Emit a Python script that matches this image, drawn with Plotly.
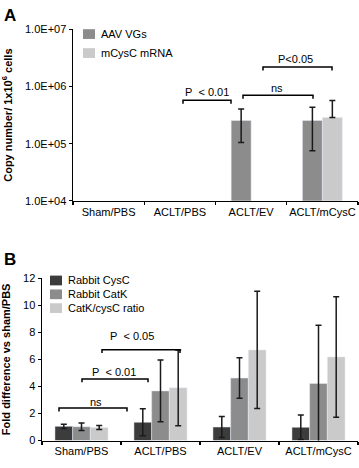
import plotly.graph_objects as go

W, H = 359, 468

# ---------------- data ----------------
categories = ["Sham/PBS", "ACLT/PBS", "ACLT/EV", "ACLT/mCysC"]

# Panel A (copy number / 1x10^6 cells)
a_series = ["AAV VGs", "mCysC mRNA"]
a_colors = ["#8c8c8c", "#cacaca"]
aav_vgs = [None, None, 2.55e5, 2.55e5]
aav_vgs_err = [0, 0, 1.5e5, 1.8e5]
mcysc_mrna = [None, None, None, 2.88e5]
mcysc_mrna_err = [0, 0, 0, 2.8e5]
a_tickvals = [1e4, 1e5, 1e6, 1e7]
a_ticktext = ["1.0E+04", "1.0E+05", "1.0E+06", "1.0E+07"]

# Panel B (fold difference vs sham/PBS)
b_series = ["Rabbit CysC", "Rabbit CatK", "CatK/cysC ratio"]
b_colors = ["#3c3c3c", "#8c8c8c", "#cacaca"]
rabbit_cysc = [1.05, 1.35, 1.0, 0.98]
rabbit_cysc_err = [0.15, 1.0, 0.78, 0.9]
rabbit_catk = [1.02, 3.67, 4.62, 4.22]
rabbit_catk_err = [0.28, 2.28, 1.5, 4.3]
ratio = [0.97, 3.9, 6.7, 6.18]
ratio_err = [0.15, 2.8, 4.33, 4.45]
b_tickvals = [0, 2, 4, 6, 8, 10, 12]

# ---------------- helpers ----------------
def px(x):
    return x / W

def py(y):
    return 1 - y / H

FONT = "Liberation Sans, Arial, Helvetica, sans-serif"
ERR = dict(type="data", color="#1a1a1a", thickness=1.5, width=3)

fig = go.Figure()

# Panel A traces
fig.add_trace(go.Bar(
    x=categories, y=aav_vgs, name=a_series[0], marker_color=a_colors[0],
    error_y=dict(array=aav_vgs_err, **ERR), xaxis="x", yaxis="y", showlegend=False))
fig.add_trace(go.Bar(
    x=categories, y=mcysc_mrna, name=a_series[1], marker_color=a_colors[1],
    error_y=dict(array=mcysc_mrna_err, arrayminus=[0, 0, 0, 0], symmetric=False, **ERR),
    xaxis="x", yaxis="y", showlegend=False))

# Panel B traces
b_values = [rabbit_cysc, rabbit_catk, ratio]
b_errs = [rabbit_cysc_err, rabbit_catk_err, ratio_err]
b_width = 0.224
for i in range(3):
    fig.add_trace(go.Bar(
        x=categories, y=b_values[i], name=b_series[i], marker_color=b_colors[i],
        error_y=dict(array=b_errs[i], **ERR), xaxis="x2", yaxis="y2", showlegend=False,
        width=b_width, offset=-1.5 * b_width + i * b_width))

axis_common = dict(showline=True, linecolor="black", linewidth=1.5, showgrid=False,
                   zeroline=False, ticks="outside", tickcolor="black", ticklen=3,
                   tickwidth=1.2, tickangle=0,
                   tickfont=dict(family=FONT, size=11, color="black"))

fig.update_layout(
    width=W, height=H, margin=dict(l=0, r=0, t=0, b=0),
    paper_bgcolor="white", plot_bgcolor="white",
    barmode="group", bargap=0.44, bargroupgap=0, showlegend=False,
    font=dict(family=FONT, size=11, color="black"),
    xaxis=dict(domain=[px(73), px(358)], anchor="y", type="category",
               tickson="boundaries", range=[-0.5, 3.5], **axis_common),
    yaxis=dict(domain=[py(200), py(24)], anchor="x", type="log", range=[4, 7],
               tickvals=a_tickvals, ticktext=a_ticktext,
               title=dict(text="<b>Copy number/ 1x10<sup>6</sup> cells</b>",
                          font=dict(family=FONT, size=11), standoff=10),
               **axis_common),
    xaxis2=dict(domain=[px(42), px(358)], anchor="y2", type="category",
                tickson="boundaries", range=[-0.5, 3.5], **axis_common),
    yaxis2=dict(domain=[py(446), py(279.3)], anchor="x2", range=[0, 12],
                tickvals=b_tickvals,
                title=dict(text="<b>Fold difference vs sham/PBS</b>",
                           font=dict(family=FONT, size=11), standoff=14),
                **axis_common),
)

shapes = []
annotations = []

def bracket(x0, x1, y, text, tx, ty, drop=3.5):
    shapes.append(dict(type="path", xref="paper", yref="paper",
                       path=f"M{px(x0)},{py(y+drop)} L{px(x0)},{py(y)} L{px(x1)},{py(y)} L{px(x1)},{py(y+drop)}",
                       line=dict(color="black", width=1.5)))
    annotations.append(dict(xref="paper", yref="paper", x=px(tx), y=py(ty), text=text,
                            showarrow=False, xanchor="center", yanchor="middle",
                            font=dict(family=FONT, size=11, color="black")))

def legend_item(x, yc, color, label, w=12, h=10):
    shapes.append(dict(type="rect", xref="paper", yref="paper",
                       x0=px(x), x1=px(x + w), y0=py(yc + h / 2), y1=py(yc - h / 2),
                       fillcolor=color, line=dict(width=0)))
    annotations.append(dict(xref="paper", yref="paper", x=px(x + w + 4), y=py(yc), text=label,
                            showarrow=False, xanchor="left", yanchor="middle",
                            font=dict(family=FONT, size=11, color="black")))

# Panel A legend
for i, (lab, col) in enumerate(zip(a_series, a_colors)):
    legend_item(83, 28.8 + i * 19.5, col, lab)

# Panel B legend
for i, (lab, col) in enumerate(zip(b_series, b_colors)):
    legend_item(50, 281.7 + i * 14.2, col, lab, w=12, h=10)

# Panel A brackets
bracket(183, 231, 96.7, "P\u00a0 < 0.01", 207, 88)
bracket(243, 313, 91.7, "ns", 277, 84)
bracket(263, 332, 62.7, "P<0.05", 295, 54)

# Panel B brackets
bracket(59, 127, 412.7, "ns", 96, 406)
bracket(82, 148, 382.7, "P\u00a0 < 0.01", 114, 376)
bracket(102, 180, 352.7, "P\u00a0 < 0.05", 132, 339)

# Panel letters
annotations.append(dict(xref="paper", yref="paper", x=px(2), y=py(10), text="<b>A</b>",
                        showarrow=False, xanchor="left", yanchor="middle",
                        font=dict(family=FONT, size=17, color="black")))
annotations.append(dict(xref="paper", yref="paper", x=px(2), y=py(260), text="<b>B</b>",
                        showarrow=False, xanchor="left", yanchor="middle",
                        font=dict(family=FONT, size=17, color="black")))

fig.update_layout(shapes=shapes, annotations=annotations)

fig.write_html("out.html",
               config={"displayModeBar": False, "staticPlot": True},
               post_script="document.body.style.margin='0';document.body.style.overflow='hidden';")
